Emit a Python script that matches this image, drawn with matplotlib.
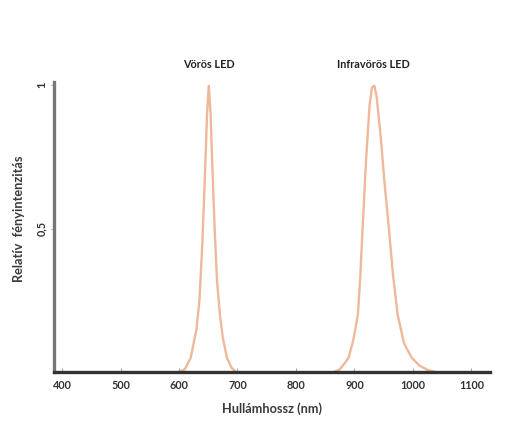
import matplotlib.pyplot as plt

# Vörös LED spectrum
red_nm = [598, 610, 620, 630, 635, 640, 645, 648, 651, 654, 657, 661, 665, 670, 675, 682, 690, 698]
red_val = [0.0, 0.01, 0.05, 0.15, 0.25, 0.45, 0.72, 0.9, 1.0, 0.9, 0.72, 0.5, 0.32, 0.2, 0.12, 0.05, 0.015, 0.0]

# Infravörös LED spectrum
ir_nm = [865, 875, 883, 890, 898, 906, 910, 914, 920, 926, 930, 934, 938, 945, 952, 959, 966, 974,
         985, 998, 1012, 1025, 1040]
ir_val = [0.0, 0.01, 0.03, 0.05, 0.11, 0.2, 0.33, 0.5, 0.74, 0.93, 0.99, 1.0, 0.96, 0.82, 0.65, 0.5,
          0.34, 0.2, 0.1, 0.05, 0.022, 0.008, 0.0]

x_ticks = [400, 500, 600, 700, 800, 900, 1000, 1100]
y_ticks = [0.5, 1.0]
y_labels = ["0,5", "1"]
peaks = [("Vörös LED", 651), ("Infravörös LED", 932)]

plt.rcParams["font.family"] = ["Lato", "DejaVu Sans"]

fig = plt.figure(figsize=(5.18, 4.21), dpi=100)
ax = fig.add_axes([0.104, 0.116, 0.842, 0.682])

line_color = "#F0B89A"
ax.plot(red_nm, red_val, color=line_color, lw=1.7, solid_joinstyle="round")
ax.plot(ir_nm, ir_val, color=line_color, lw=1.7, solid_joinstyle="round")

ax.set_xlim(386, 1132)
ax.set_ylim(0, 1.0)

for side in ("top", "right"):
    ax.spines[side].set_visible(False)
ax.spines["bottom"].set_color("#333333")
ax.spines["bottom"].set_linewidth(2.4)
ax.spines["left"].set_color("#777777")
ax.spines["left"].set_linewidth(2.4)
ax.spines["left"].set_bounds(0, 1.01)

ax.set_xticks(x_ticks)
ax.set_xticklabels([str(v) for v in x_ticks])
ax.set_yticks(y_ticks)
ax.set_yticklabels(y_labels, rotation=90, va="center")
ax.tick_params(axis="x", direction="in", length=3, color="#aaaaaa", labelsize=7.8,
               labelcolor="#333333", pad=6)
ax.tick_params(axis="y", direction="out", length=2, color="#aaaaaa", labelsize=7.8,
               labelcolor="#333333", pad=3)
for lab in ax.get_xticklabels() + ax.get_yticklabels():
    lab.set_fontweight("bold")

ax.set_xlabel("Hullámhossz (nm)", fontsize=9.2, fontweight="bold", color="#3a3a3a", labelpad=8)
fig.text(0.036, 0.48, "Relatív  fényintenzitás", rotation=90, ha="center", va="center",
         fontsize=9.2, fontweight="bold", color="#3a3a3a")

for name, nm in peaks:
    ax.annotate(name, xy=(nm, 1.0), xytext=(0, 11), textcoords="offset points",
                ha="center", va="bottom", fontsize=7.8, fontweight="bold", color="#222222")

fig.savefig("out.png", dpi=100, facecolor="white")
